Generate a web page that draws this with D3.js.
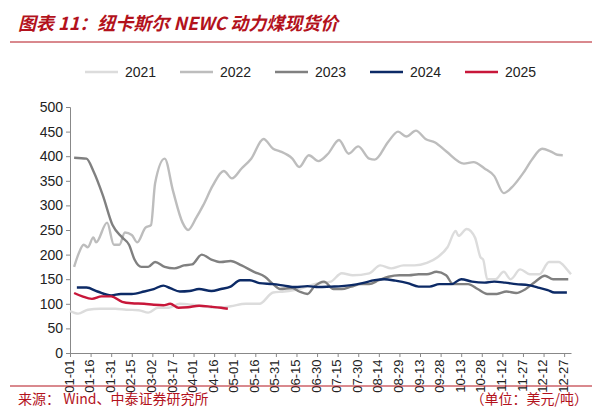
<!DOCTYPE html><html><head><meta charset="utf-8"><script src="https://cdn.jsdelivr.net/npm/d3@7"></script>
<style>body{margin:0;background:#fff;font-family:Arial,"Liberation Sans","Noto Sans CJK SC",sans-serif}</style></head><body><svg id="c" width="600" height="414"></svg><script>
const tickLabels=["01-01","01-16","01-31","02-15","03-02","03-17","04-01","04-16","05-01","05-16","05-31","06-15","06-30","07-15","07-30","08-14","08-29","09-13","09-28","10-13","10-28","11-12","11-27","12-12","12-27"];
const yTicks=[0,50,100,150,200,250,300,350,400,450,500];
const seriesNames=["2021","2022","2023","2024","2025"];
const d2021=[[0,85],[6,80],[13,88],[22,90],[33,90],[41,88],[50,87],[57,82],[64,92],[72,92],[80,100],[89,98],[97,95],[106,92],[117,95],[128,100],[138,100],[148,123],[156,125],[167,130],[178,140],[190,145],[198,162],[206,158],[218,162],[226,178],[234,172],[243,178],[251,178],[260,183],[268,195],[275,215],[281,248],[283,238],[289,252],[295,235],[299,195],[301,190],[304,150],[310,150],[316,165],[321,150],[328,170],[335,160],[342,160],[349,185],[356,185],[362,170],[365,160]];
const d2022=[[3,175],[6,200],[10,220],[13,215],[17,235],[19,225],[27,265],[32,220],[36,220],[40,245],[45,240],[49,225],[55,255],[59,260],[62,345],[69,395],[75,330],[82,265],[86,250],[92,275],[97,300],[104,340],[112,370],[118,355],[125,375],[132,395],[141,435],[148,415],[153,410],[162,395],[167,378],[174,402],[181,390],[188,405],[196,433],[203,405],[210,420],[218,395],[222,393],[232,430],[239,450],[245,440],[252,452],[259,435],[266,428],[274,410],[287,385],[294,388],[302,375],[309,360],[316,325],[323,340],[330,365],[337,395],[344,415],[350,410],[355,403],[359,402]];
const d2023=[[3,397],[12,395],[17,370],[24,320],[31,260],[38,235],[43,220],[47,190],[52,175],[57,175],[62,185],[69,175],[76,172],[83,178],[89,180],[96,200],[103,190],[110,185],[117,187],[125,178],[134,165],[142,155],[148,140],[153,130],[162,132],[167,125],[173,120],[178,135],[185,145],[192,130],[198,130],[205,135],[212,140],[218,140],[225,148],[232,155],[240,158],[247,158],[254,160],[260,160],[267,165],[274,158],[279,140],[285,140],[290,140],[297,130],[304,120],[311,120],[318,125],[325,122],[332,130],[339,145],[346,157],[352,150],[358,150],[363,150]];
const d2024=[[5,133],[12,133],[20,125],[30,117],[37,120],[45,120],[54,125],[61,130],[68,137],[73,132],[80,125],[87,126],[94,130],[103,126],[110,130],[117,135],[124,148],[131,148],[138,142],[148,140],[156,137],[164,134],[173,136],[181,134],[190,135],[198,136],[205,138],[213,142],[222,148],[229,150],[237,147],[246,142],[254,135],[262,135],[269,140],[278,140],[285,150],[293,145],[302,143],[309,145],[317,143],[325,140],[334,138],[341,133],[348,128],[353,123],[362,123]];
const d2025=[[3,122],[9,115],[16,110],[23,115],[30,115],[38,104],[45,101],[54,100],[61,98],[68,97],[73,100],[79,92],[86,93],[94,96],[103,94],[110,92],[115,90]];
const colors=["#dcdcdc","#bdbdbd","#808080","#0c2a66","#c8173a"];
const allData=[d2021,d2022,d2023,d2024,d2025];
const svg=d3.select("#c");
svg.append("text").attr("x",18).attr("y",30).attr("fill","#b3121c").attr("font-size",18).attr("font-style","italic").attr("font-weight","bold").attr("font-family","'Noto Sans CJK SC',sans-serif").text("图表 11：纽卡斯尔 NEWC 动力煤现货价");
svg.append("line").attr("x1",10).attr("x2",592).attr("y1",42).attr("y2",42).attr("stroke","#b3121c").attr("stroke-width",1);
const x=d3.scaleLinear().domain([0,365]).range([70,571]);
const y=d3.scaleLinear().domain([0,500]).range([353,107]);
const g=svg.append("g");
const ya=g.append("g").attr("transform","translate(70,0)").call(d3.axisLeft(y).tickValues(yTicks).tickSize(4));
ya.selectAll("text").attr("font-size",14).attr("fill","#222").attr("font-family","Arial,'Liberation Sans'");
ya.select(".domain").attr("stroke","#888");ya.selectAll(".tick line").attr("stroke","#888");
const xa=g.append("g").attr("transform","translate(0,353)").call(d3.axisBottom(x).tickValues(d3.range(0,361,15)).tickFormat((d,i)=>tickLabels[i]).tickSize(4).tickSizeOuter(0));
xa.select(".domain").attr("stroke","#888");xa.selectAll(".tick line").attr("stroke","#888");
xa.selectAll("text").attr("font-size",13).attr("fill","#222").attr("font-family","Arial,'Liberation Sans'").attr("text-anchor","end").attr("dx","-0.5em").attr("dy","-0.3em").attr("transform","rotate(-90)");
const line=d3.line().x(d=>x(d[0])).y(d=>y(d[1])).curve(d3.curveMonotoneX);
allData.forEach((d,i)=>g.append("path").datum(d).attr("d",line).attr("fill","none").attr("stroke",colors[i]).attr("stroke-width",2.4));
const lg=svg.append("g");
const lx=[85,180,275,370,465];
seriesNames.forEach((n,i)=>{lg.append("line").attr("x1",lx[i]).attr("x2",lx[i]+33).attr("y1",72).attr("y2",72).attr("stroke",colors[i]).attr("stroke-width",2.4);
lg.append("text").attr("x",lx[i]+40).attr("y",77).attr("font-size",14).attr("fill","#222").text(n);});
svg.append("line").attr("x1",10).attr("x2",592).attr("y1",386).attr("y2",386).attr("stroke","#b3121c").attr("stroke-width",1);
svg.append("text").attr("x",18).attr("y",404).attr("fill","#b3121c").attr("font-size",14).attr("font-family","'Noto Sans CJK SC',sans-serif").text("来源：  Wind、中泰证券研究所");
svg.append("text").attr("x",588).attr("y",404).attr("text-anchor","end").attr("fill","#b3121c").attr("font-size",14).attr("font-family","'Noto Sans CJK SC',sans-serif").text("（单位：美元/吨）");
</script></body></html>
